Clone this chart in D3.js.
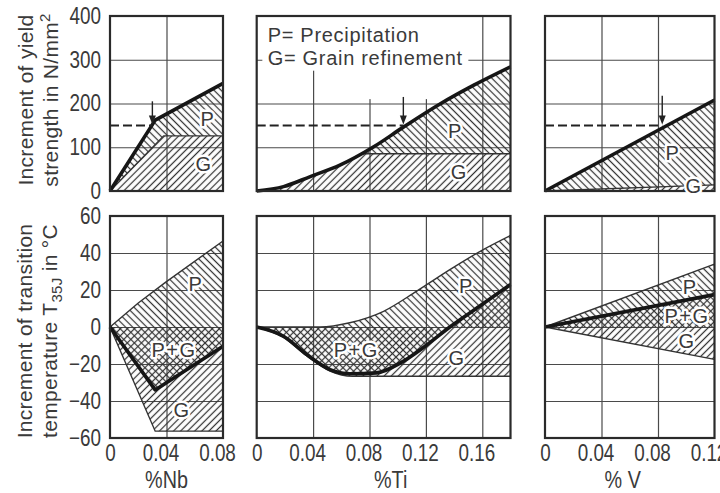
<!DOCTYPE html>
<html>
<head>
<meta charset="utf-8">
<script src="https://cdn.jsdelivr.net/npm/d3@7"></script>
<style>
  body { margin: 0; background: #fff; }
  svg { display: block; }
  text { font-family: "Liberation Sans", Arial, sans-serif; fill: #3a3a3a; }
  .grid line { stroke: #4a4a4a; stroke-width: 1.2; }
  .frame { fill: none; stroke: #2a2a2a; stroke-width: 2.2; }
  .edge { fill: none; stroke: #333; stroke-width: 1.4; }
  .thick { fill: none; stroke: #161616; stroke-width: 3.6; stroke-linejoin: round; }
  .dash { stroke: #222; stroke-width: 2; stroke-dasharray: 9 4; }
  .lab { font-size: 20px; letter-spacing: 1.5px; stroke: #fff; stroke-width: 5px; paint-order: stroke; stroke-linejoin: round; }
</style>
</head>
<body>
<svg id="chart" width="720" height="493"></svg>
<script>
var svg = d3.select("#chart");

// tick values
var yTopTicks = [0, 100, 200, 300, 400];
var yBotTicks = [-60, -40, -20, 0, 20, 40, 60];
var nbTicks = [0, 0.04, 0.08];
var tiTicks = [0, 0.04, 0.08, 0.12, 0.16];
var vTicks = [0, 0.04, 0.08, 0.12];

// increment of yield strength (N/mm2): total (thick line) and grain refinement part
var nbYield = [[0, 0], [0.032, 162], [0.08, 246]];
var nbYieldG = [[0, 0], [0.038, 126], [0.08, 126]];
var tiYield = [[0, 0], [0.019, 10], [0.038, 33], [0.059, 59], [0.083, 101], [0.104, 146], [0.13, 199], [0.154, 242], [0.18, 284]];
var tiYieldG = [[0, 85], [0.18, 85]];
var vYield = [[0, 0], [0.12, 208]];
var vYieldG = [[0, 0], [0.12, 14]];

// increment of transition temperature (C): total, precipitation top, grain refinement bottom
var nbTemp = [[0, 0], [0.032, -34], [0.08, -10.4]];
var nbTempP = [[0, 0], [0.02, 13], [0.039, 24], [0.08, 46.5]];
var nbTempG = [[0, 0], [0.032, -56.3], [0.08, -56.3]];
var tiTemp = [[0, 0], [0.019, -5], [0.0355, -14.9], [0.052, -23], [0.066, -25.3], [0.085, -24.8], [0.102, -19.4], [0.118, -11.2], [0.137, 0], [0.158, 11.2], [0.18, 23]];
var tiTempP = [[0, 0], [0.045, 0], [0.066, 2.3], [0.09, 8.5], [0.1135, 19.4], [0.137, 31], [0.161, 42], [0.18, 49.5]];
var tiTempG = [[0, 0], [0.019, -5.6], [0.0355, -15.6], [0.052, -23.8], [0.068, -26.6], [0.18, -26.6]];
var vTemp = [[0, 0], [0.12, 17.5]];
var vTempP = [[0, 0], [0.12, 34]];
var vTempG = [[0, 0], [0.12, -17.5]];

// arrow marks at 150 N/mm2: [x of arrow, start of arrow shaft]
var markLevel = 150;
var nbMark = [0.030, 205];
var tiMark = [0.104, 215];
var vMark = [0.083, 218];

// region labels [text, x, y]
var nbTopLabels = [["P", 0.0694, 165], ["G", 0.0666, 62]];
var tiTopLabels = [["P", 0.141, 137], ["G", 0.1436, 43]];
var vTopLabels = [["P", 0.0906, 87], ["G", 0.1055, 11]];
var nbBotLabels = [["P", 0.0609, 23], ["P+G", 0.0453, -12.7], ["G", 0.051, -44.6]];
var tiBotLabels = [["P", 0.1487, 21.9], ["P+G", 0.0706, -12.2], ["G", 0.142, -17]];
var vBotLabels = [["P", 0.1027, 21.4], ["P+G", 0.1005, 5.7], ["G", 0.1005, -7.8]];

var legendLines = ["P= Precipitation", "G= Grain refinement"];

var yTop = d3.scaleLinear().domain([0, 400]).range([191, 16]);
var yBot = d3.scaleLinear().domain([-60, 60]).range([438, 216]);

var columns = [
  { id: "nb", left: 110, right: 223, max: 0.08, ticks: nbTicks, title: "%Nb", titleAt: 0.04, curve: d3.curveLinear,
    yld: nbYield, yldG: nbYieldG, temp: nbTemp, tempP: nbTempP, tempG: nbTempG,
    mark: nbMark, topLabels: nbTopLabels, botLabels: nbBotLabels },
  { id: "ti", left: 256.7, right: 510.5, max: 0.18, ticks: tiTicks, title: "%Ti", titleAt: 0.095, curve: d3.curveMonotoneX,
    yld: tiYield, yldG: tiYieldG, temp: tiTemp, tempP: tiTempP, tempG: tiTempG,
    mark: tiMark, topLabels: tiTopLabels, botLabels: tiBotLabels, legend: true },
  { id: "v", left: 545, right: 714.5, max: 0.12, ticks: vTicks, title: "% V", titleAt: 0.055, curve: d3.curveLinear,
    yld: vYield, yldG: vYieldG, temp: vTemp, tempP: vTempP, tempG: vTempG,
    mark: vMark, topLabels: vTopLabels, botLabels: vBotLabels }
];

var defs = svg.append("defs");

// hatch patterns: P = "\\\", G = "///"
function hatch(id, angle) {
  var p = defs.append("pattern")
    .attr("id", id)
    .attr("patternUnits", "userSpaceOnUse")
    .attr("width", 5).attr("height", 5)
    .attr("patternTransform", "rotate(" + angle + ")");
  p.append("line")
    .attr("x1", 2.5).attr("y1", -1).attr("x2", 2.5).attr("y2", 6)
    .attr("stroke", "#333").attr("stroke-width", 1.25);
}
hatch("hatchP", -45);
hatch("hatchG", 45);

function clip(id) {
  return defs.append("clipPath").attr("id", id);
}

// the drawing uses a condensed lettering, squeeze the glyphs of a normal font
function squeeze(sel, k) {
  sel.each(function () {
    var len = this.getComputedTextLength();
    d3.select(this).attr("textLength", len * k).attr("lengthAdjust", "spacingAndGlyphs");
  });
}

function drawGrid(g, x, y, xt, yt) {
  var xd = x.domain(), yd = y.domain();
  var gx = g.append("g").attr("class", "grid")
    .attr("transform", "translate(0," + y.range()[0] + ")")
    .call(d3.axisBottom(x).tickValues(xt.filter(d => d > xd[0] && d < xd[1]))
      .tickSize(-(y.range()[0] - y.range()[1])).tickFormat(""));
  gx.select(".domain").remove();
  var gy = g.append("g").attr("class", "grid")
    .attr("transform", "translate(" + x.range()[0] + ",0)")
    .call(d3.axisLeft(y).tickValues(yt.filter(d => d > yd[0] && d < yd[1]))
      .tickSize(-(x.range()[1] - x.range()[0])).tickFormat(""));
  gy.select(".domain").remove();
}

function frame(g, x, y) {
  g.append("rect").attr("class", "frame")
    .attr("x", x.range()[0]).attr("y", y.range()[1])
    .attr("width", x.range()[1] - x.range()[0])
    .attr("height", y.range()[0] - y.range()[1]);
}

function hatchRect(g, x, y, fill, clipId) {
  g.append("rect")
    .attr("x", x.range()[0]).attr("y", y.range()[1])
    .attr("width", x.range()[1] - x.range()[0])
    .attr("height", y.range()[0] - y.range()[1])
    .attr("fill", "url(#" + fill + ")")
    .attr("clip-path", "url(#" + clipId + ")");
}

function labels(g, x, y, data) {
  g.selectAll(null).data(data).join("text")
    .attr("class", "lab")
    .attr("x", d => x(d[1]))
    .attr("y", d => y(d[2]))
    .attr("text-anchor", "middle")
    .attr("dominant-baseline", "central")
    .text(d => d[0]);
}

function leftAxis(g, x, y, ticks) {
  var ax = g.append("g")
    .attr("transform", "translate(" + x.range()[0] + ",0)")
    .call(d3.axisLeft(y).tickValues(ticks).tickSize(0).tickPadding(9));
  ax.attr("font-size", 23).attr("font-family", null);
  ax.select(".domain").remove();
  squeeze(ax.selectAll("text"), 0.82);
}

function drawTop(col, x, first) {
  var g = svg.append("g");
  var y = yTop;
  var line = d3.line().x(d => x(d[0])).y(d => y(d[1])).curve(col.curve);
  var area = function (base) {
    return d3.area().x(d => x(d[0])).y0(y(base)).y1(d => y(d[1])).curve(col.curve);
  };

  drawGrid(g, x, y, col.ticks, yTopTicks);

  // white-out behind the legend text
  if (col.legend) {
    g.append("rect").attr("fill", "#fff")
      .attr("x", x(0.004)).attr("width", x(0.150) - x(0.004))
      .attr("y", y(400) + 1).attr("height", y(275) - y(400) - 1);
    g.append("rect").attr("fill", "#fff")
      .attr("x", x(0.045)).attr("width", x(0.150) - x(0.045))
      .attr("y", y(400) + 1).attr("height", y(210) - y(400) - 1);
    g.selectAll(null).data(legendLines).join("text")
      .attr("x", x(0) + 11)
      .attr("y", (d, i) => y(400) + 26 + i * 23)
      .attr("font-size", 20)
      .attr("letter-spacing", 0.7)
      .text(d => d);
  }

  var id = col.id + "-top";
  clip(id + "-thick").append("path").attr("d", area(0)(col.yld));
  clip(id + "-g").append("path").attr("d", area(0)(col.yldG));
  clip(id + "-p").append("path").attr("d", area(400)(col.yldG));

  var under = g.append("g").attr("clip-path", "url(#" + id + "-thick)");
  hatchRect(under, x, y, "hatchG", id + "-g");
  hatchRect(under, x, y, "hatchP", id + "-p");
  under.append("path").attr("class", "edge").attr("d", line(col.yldG));

  g.append("path").attr("class", "thick").attr("d", line(col.yld));

  // dashed level and arrow
  var mx = x(col.mark[0]), my = y(markLevel);
  g.append("line").attr("class", "dash")
    .attr("x1", x(0)).attr("x2", mx).attr("y1", my).attr("y2", my);
  g.append("line").attr("stroke", "#222").attr("stroke-width", 1.4)
    .attr("x1", mx).attr("x2", mx).attr("y1", y(col.mark[1])).attr("y2", my - 8);
  g.append("path").attr("fill", "#222")
    .attr("d", "M" + (mx - 3.5) + "," + (my - 10) + "L" + (mx + 3.5) + "," + (my - 10) + "L" + mx + "," + (my - 1) + "Z");

  frame(g, x, y);
  labels(g, x, y, col.topLabels);

  if (first) leftAxis(g, x, y, yTopTicks);
}

function drawBottom(col, x, first) {
  var g = svg.append("g");
  var y = yBot;
  var line = d3.line().x(d => x(d[0])).y(d => y(d[1])).curve(col.curve);
  var area = function (base) {
    return d3.area().x(d => x(d[0])).y0(y(base)).y1(d => y(d[1])).curve(col.curve);
  };

  drawGrid(g, x, y, col.ticks, yBotTicks);

  var id = col.id + "-bot";
  var w = x.range()[1] - x.range()[0];
  // precipitation: below P top and above min(total, 0)
  clip(id + "-pa").append("path").attr("d", area(-60)(col.tempP));
  var pb = clip(id + "-pb");
  pb.append("path").attr("d", area(60)(col.temp));
  pb.append("rect").attr("x", x.range()[0]).attr("width", w).attr("y", y(60)).attr("height", y(0) - y(60));
  // grain refinement: above G bottom and below max(total, 0)
  clip(id + "-ga").append("path").attr("d", area(60)(col.tempG));
  var gb = clip(id + "-gb");
  gb.append("path").attr("d", area(-60)(col.temp));
  gb.append("rect").attr("x", x.range()[0]).attr("width", w).attr("y", y(0)).attr("height", y(-60) - y(0));

  hatchRect(g.append("g").attr("clip-path", "url(#" + id + "-pb)"), x, y, "hatchP", id + "-pa");
  hatchRect(g.append("g").attr("clip-path", "url(#" + id + "-gb)"), x, y, "hatchG", id + "-ga");

  g.append("path").attr("class", "edge").attr("d", line(col.tempP));
  g.append("path").attr("class", "edge").attr("d", line(col.tempG));
  g.append("path").attr("class", "thick").attr("d", line(col.temp));

  frame(g, x, y);
  labels(g, x, y, col.botLabels);

  if (first) leftAxis(g, x, y, yBotTicks);

  var axb = g.append("g")
    .attr("transform", "translate(0," + y.range()[0] + ")")
    .call(d3.axisBottom(x).tickValues(col.ticks).tickSize(0).tickPadding(7)
      .tickFormat(d => d === 0 ? "0" : d.toFixed(2)));
  axb.attr("font-size", 23).attr("font-family", null);
  axb.select(".domain").remove();
  // decimal labels sit a little left of their grid line in the drawing
  axb.selectAll("text").attr("dx", d => d === 0 ? 0 : -6);
  squeeze(axb.selectAll("text"), 0.82);

  var title = g.append("text")
    .attr("x", x(col.titleAt)).attr("y", 487.5)
    .attr("text-anchor", "middle")
    .attr("font-size", 23)
    .text(col.title);
  squeeze(title, 0.86);
}

columns.forEach(function (col, i) {
  var x = d3.scaleLinear().domain([0, col.max]).range([col.left, col.right]);
  drawTop(col, x, i === 0);
  drawBottom(col, x, i === 0);
});

// rotated y-axis titles
var yTitle = svg.append("g").attr("font-size", 21).attr("letter-spacing", 0.3);
yTitle.append("text").attr("text-anchor", "middle")
  .attr("transform", "translate(33,100)rotate(-90)")
  .text("Increment of yield");
var t2 = yTitle.append("text").attr("text-anchor", "middle")
  .attr("transform", "translate(58,100)rotate(-90)");
t2.append("tspan").text("strength in N/mm");
t2.append("tspan").attr("font-size", 15).attr("dy", -8).text("2");

yTitle.append("text").attr("text-anchor", "middle")
  .attr("transform", "translate(32,331)rotate(-90)")
  .text("Increment of transition");
var t4 = yTitle.append("text").attr("text-anchor", "middle")
  .attr("transform", "translate(57,331)rotate(-90)");
t4.append("tspan").text("temperature T");
t4.append("tspan").attr("font-size", 15).attr("dy", 5).text("35J");
t4.append("tspan").attr("dy", -5).text(" in °C");
</script>
</body>
</html>
